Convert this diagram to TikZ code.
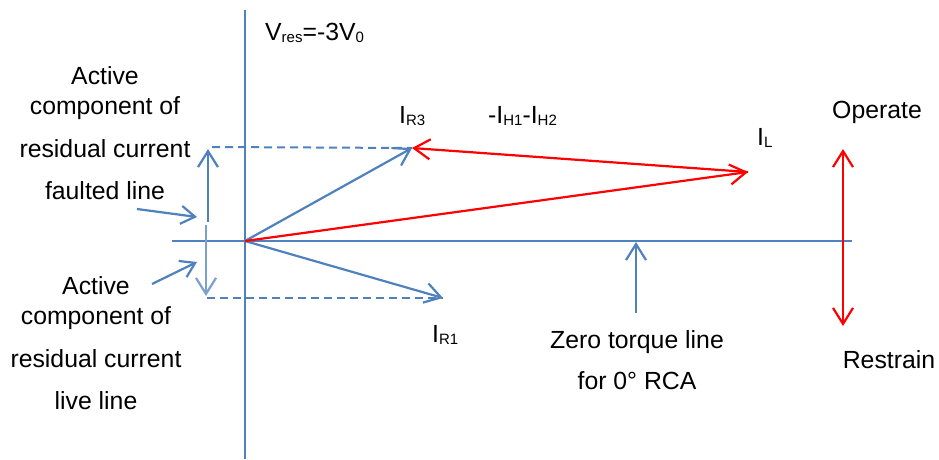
\documentclass[tikz,border=0pt]{standalone}
\usepackage{fontspec}
\setmainfont{Liberation Sans}
\usetikzlibrary{arrows.meta}
\definecolor{phblue}{RGB}{79,129,189}
\definecolor{phred}{RGB}{255,0,0}
\newcommand{\lsub}[1]{\raisebox{-2pt}{\fontsize{15}{15}\selectfont #1}}
\tikzset{
  axis/.style={draw=phblue, line width=2pt},
  phasor/.style={draw=phblue, line width=2.2pt,
                 -{Straight Barb[length=16pt, width=20pt]}},
  redphasor/.style={draw=phred, line width=2.2pt,
                    -{Straight Barb[length=16pt, width=20pt]}},
  pointer/.style={draw=phblue, line width=2.2pt,
                  -{Straight Barb[length=14pt, width=18pt]}},
  proj/.style={draw=phblue, line width=2pt, dash pattern=on 8pt off 5pt},
  lbl/.style={inner sep=0pt, font=\fontsize{24.8}{30}\selectfont}
}

\begin{document}
\begin{tikzpicture}[x=1pt, y=-1pt]
\useasboundingbox (0,0) rectangle (939,459);

% phasor end points
\coordinate (O) at (245,241);
\coordinate (ir3) at (412,148);
\coordinate (ir1) at (443,298);
\coordinate (il) at (748,172);

% axes
\coordinate (vtop) at (245,10);
\coordinate (vbot) at (245,459);
\coordinate (hl) at (172,241);
\coordinate (hr) at (852,241);
\draw[axis] (vtop) -- (vbot);
\draw[axis] (hl) -- (hr);

% projections of the residual currents
\coordinate (dt) at (212,147);
\coordinate (db) at (207,298);
\draw[proj] (dt) -- (ir3);
\draw[proj] (db) -- (ir1);

% phasors
\draw[phasor] (O) -- (ir3);
\draw[phasor] (O) -- (ir1);
\draw[redphasor] (O) -- (il);
\draw[redphasor] (il) -- (ir3);

% active components
\coordinate (up0) at (208,222);
\coordinate (up1) at (208,149);
\coordinate (dn0) at (206,225);
\coordinate (dn1) at (206,296);
\draw[phasor] (up0) -- (up1);
\draw[phasor, draw=phblue!75] (dn0) -- (dn1);

% pointers from the labels
\coordinate (pf0) at (137,209);
\coordinate (pf1) at (197,217);
\coordinate (pl0) at (152,284);
\coordinate (pl1) at (197,262);
\draw[pointer] (pf0) -- (pf1);
\draw[pointer] (pl0) -- (pl1);

% zero torque line pointer
\coordinate (zt0) at (636,313);
\coordinate (zt1) at (636,242);
\draw[phasor] (zt0) -- (zt1);

% operate / restrain
\coordinate (opt) at (843,149);
\coordinate (rst) at (843,326);
\draw[redphasor, {Straight Barb[length=16pt, width=20pt]}-{Straight Barb[length=16pt, width=20pt]}] (rst) -- (opt);

% labels
\node[lbl, anchor=base west] (vres) at (265,40) {V\lsub{res}=-3V\lsub{0}};
\node[lbl, anchor=base west] (lir3) at (399,123) {I\lsub{R3}};
\node[lbl, anchor=base west] (lih) at (488,123) {-I\lsub{H1}-I\lsub{H2}};
\node[lbl, anchor=base west] (lil) at (757,145) {I\lsub{L}};
\node[lbl, anchor=base west] (lir1) at (432,342) {I\lsub{R1}};
\node[lbl, anchor=base] (lop) at (877,118) {Operate};
\node[lbl, anchor=base] (lre) at (889,368) {Restrain};
\node[lbl, anchor=north, align=center] (lzt) at (637,330)
  {Zero torque line\\[11pt]for 0° RCA};
\node[lbl, anchor=north, align=center] (lfl) at (105,66)
  {Active\\component of\\[13pt]residual current\\[12pt]faulted line};
\node[lbl, anchor=north, align=center] (lll) at (96,276)
  {Active\\component of\\[13pt]residual current\\[12pt]live line};
\end{tikzpicture}
\end{document}
